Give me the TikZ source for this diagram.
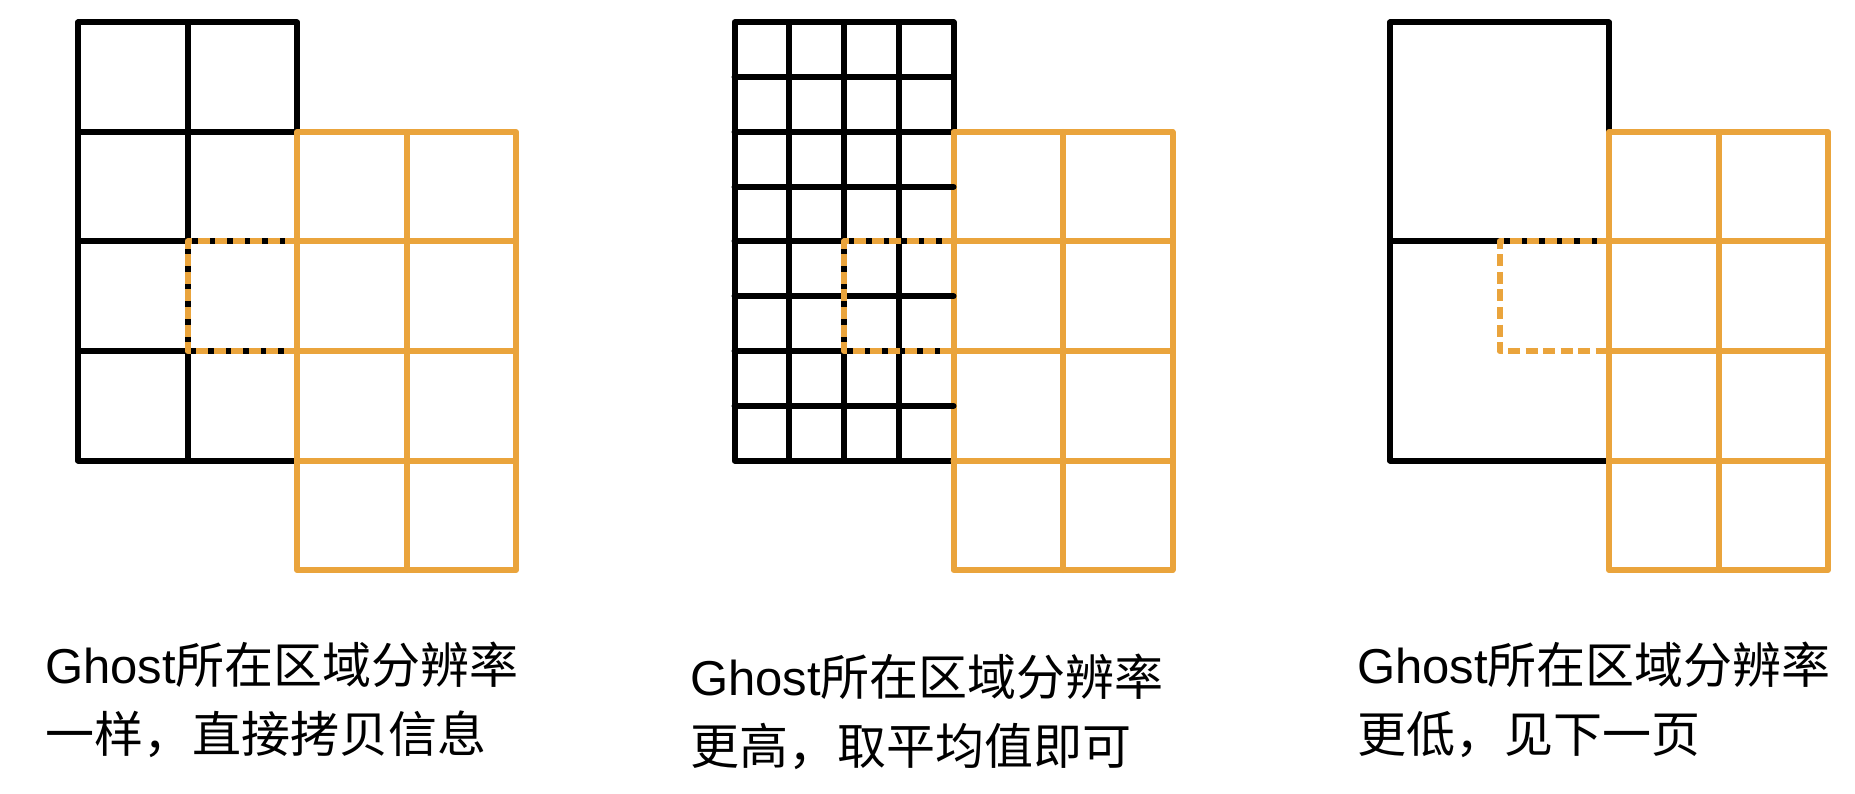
\documentclass[tikz,border=0pt]{standalone}
\usepackage{fontspec}
\newfontfamily\latfont{Liberation Sans}
\newfontfamily\cjkfont{Noto Sans CJK SC}
\definecolor{gorange}{RGB}{234,164,60}
\tikzset{
  blk/.style={line width=6pt, black, line cap=round, line join=round},
  org/.style={line width=6pt, gorange, line cap=round, line join=round},
  ghost/.style={line width=6pt, gorange, dash pattern=on 12pt off 5.5pt, line join=round},
  lbl/.style={anchor=base west, inner sep=0pt, font=\fontsize{49pt}{58pt}\selectfont}
}
\begin{document}
\begin{tikzpicture}[x=1pt,y=1pt]
\useasboundingbox (0,0) rectangle (1855,-794);
% ---------- panel 1 ----------
\begin{scope}[shift={(78pt,-22.5pt)}, x=109.5pt, y=109.5pt]
  \draw[blk] (0,0) rectangle (2,-4);
  \draw[blk] (1,0) -- (1,-4);
  \foreach \y in {-1,-2,-3} \draw[blk] (0,\y) -- (2,\y);
  \draw[org] (2,-1) rectangle (4,-5);
  \draw[org] (3,-1) -- (3,-5);
  \foreach \y in {-2,-3,-4} \draw[org] (2,\y) -- (4,\y);
  \draw[ghost] (2,-2) -- (1,-2) -- (1,-3) -- (2,-3);
\end{scope}
% ---------- panel 2 ----------
\begin{scope}[shift={(734.5pt,-22.5pt)}, x=109.5pt, y=109.5pt]
  \draw[blk] (0,0) rectangle (2,-4);
  \foreach \x in {0.5,1,1.5} \draw[blk] (\x,0) -- (\x,-4);
  \foreach \y in {-0.5,-1,-1.5,-2,-2.5,-3,-3.5} \draw[blk] (0,\y) -- (2,\y);
  \draw[org] (2,-1) rectangle (4,-5);
  \draw[org] (3,-1) -- (3,-5);
  \foreach \y in {-2,-3,-4} \draw[org] (2,\y) -- (4,\y);
  \foreach \y in {-1.5,-2.5,-3.5} \draw[blk] (1.5,\y) -- (2,\y);
  \draw[ghost] (2,-2) -- (1,-2) -- (1,-3) -- (2,-3);
\end{scope}
% ---------- panel 3 ----------
\begin{scope}[shift={(1390pt,-22.5pt)}, x=109.5pt, y=109.5pt]
  \draw[blk] (0,0) rectangle (2,-4);
  \draw[blk] (0,-2) -- (2,-2);
  \draw[org] (2,-1) rectangle (4,-5);
  \draw[org] (3,-1) -- (3,-5);
  \foreach \y in {-2,-3,-4} \draw[org] (2,\y) -- (4,\y);
  \draw[ghost] (2,-2) -- (1,-2) -- (1,-3) -- (2,-3);
\end{scope}
% ---------- captions ----------
\node[lbl] (t1a) at (45,-683) {{\latfont Ghost}{\cjkfont 所在区域分辨率}};
\node[lbl] (t1b) at (45,-752) {\cjkfont 一样，直接拷贝信息};
\node[lbl] (t2a) at (690,-695) {{\latfont Ghost}{\cjkfont 所在区域分辨率}};
\node[lbl] (t2b) at (690,-764) {\cjkfont 更高，取平均值即可};
\node[lbl] (t3a) at (1357,-683) {{\latfont Ghost}{\cjkfont 所在区域分辨率}};
\node[lbl] (t3b) at (1357,-752) {\cjkfont 更低，见下一页};
\end{tikzpicture}
\end{document}
